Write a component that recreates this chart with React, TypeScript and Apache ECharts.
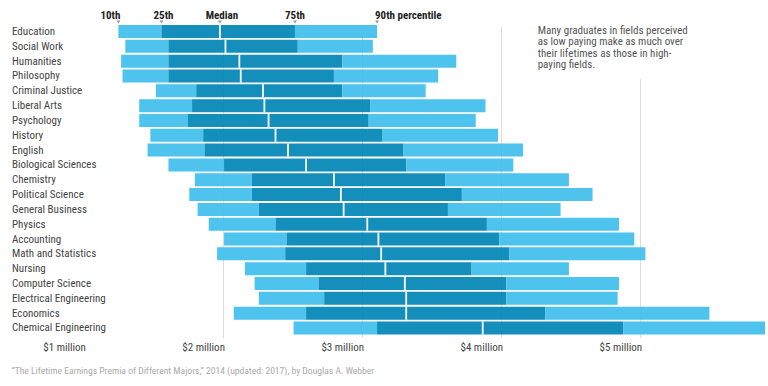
import React, { useEffect, useRef } from "react";
import * as echarts from "echarts";

const categories = [
  "Education",
  "Social Work",
  "Humanities",
  "Philosophy",
  "Criminal Justice",
  "Liberal Arts",
  "Psychology",
  "History",
  "English",
  "Biological Sciences",
  "Chemistry",
  "Political Science",
  "General Business",
  "Physics",
  "Accounting",
  "Math and Statistics",
  "Nursing",
  "Computer Science",
  "Electrical Engineering",
  "Economics",
  "Chemical Engineering",
];

// lifetime earnings, $ millions
const p10 = [1.25, 1.3, 1.27, 1.28, 1.52, 1.4, 1.4, 1.48, 1.46, 1.61, 1.8, 1.76, 1.82, 1.9, 2.01, 1.96, 2.16, 2.23, 2.26, 2.08, 2.51];
const p25 = [1.56, 1.61, 1.61, 1.61, 1.81, 1.78, 1.75, 1.86, 1.87, 2.01, 2.21, 2.21, 2.26, 2.38, 2.46, 2.45, 2.6, 2.69, 2.73, 2.6, 3.11];
const median = [1.98, 2.02, 2.12, 2.13, 2.29, 2.3, 2.33, 2.38, 2.47, 2.6, 2.8, 2.85, 2.87, 3.04, 3.12, 3.14, 3.17, 3.31, 3.32, 3.32, 3.87];
const p75 = [2.52, 2.54, 2.86, 2.8, 2.86, 3.06, 3.05, 3.15, 3.3, 3.32, 3.6, 3.72, 3.62, 3.9, 3.99, 4.06, 3.79, 4.04, 4.04, 4.32, 4.88];
const p90 = [3.11, 3.08, 3.68, 3.55, 3.46, 3.89, 3.82, 3.98, 4.16, 4.09, 4.49, 4.66, 4.43, 4.85, 4.96, 5.04, 4.49, 4.85, 4.84, 5.5, 6.1];

const xTickValues = [1, 2, 3, 4, 5];
const gridValues = [2, 3, 4, 5];
const headerLabels = ["10th", "25th", "Median", "75th", "90th percentile"];
const annotationLines = [
  "Many graduates in fields perceived",
  "as low paying make as much over",
  "their lifetimes as those in high-",
  "paying fields.",
];
const sourceText =
  "\u201cThe Lifetime Earnings Premia of Different Majors,\u201d 2014 (updated: 2017), by Douglas A. Webber";

const FONT = "'Liberation Sans Narrow', 'Roboto Condensed', 'Liberation Sans', Arial, sans-serif";
const LIGHT = "rgb(62,190,237)";
const DARK = "rgb(0,133,181)";
const BAR_OPACITY = 0.92;

const diff = (a: number[], b: number[]) => a.map((v, i) => +(v - b[i]).toFixed(3));

export default function App() {
  const ref = useRef<HTMLDivElement>(null);

  useEffect(() => {
    if (!ref.current) return;
    const chart = echarts.init(ref.current, null, { renderer: "svg" });

    const seg = (name: string, data: number[], color: string) => ({
      name,
      type: "bar",
      stack: "p",
      barWidth: 13,
      data,
      z: 2,
      itemStyle: { color, opacity: BAR_OPACITY },
      emphasis: { disabled: true },
    });

    chart.setOption({
      animation: false,
      backgroundColor: "#fff",
      textStyle: { fontFamily: FONT },
      grid: { left: 83.6, right: 0, top: 24.1, bottom: 50.6 },
      xAxis: {
        type: "value",
        min: 1,
        max: 5.9,
        interval: 1,
        axisLine: { show: false },
        axisTick: { show: false },
        splitLine: { show: false },
        axisLabel: {
          margin: 7,
          color: "#444",
          fontSize: 11,
          fontFamily: FONT,
          padding: [0, 38, 0, 0],
          formatter: (v: number) => (xTickValues.includes(v) ? `$${v} million` : ""),
        },
      },
      yAxis: {
        type: "category",
        data: categories,
        inverse: true,
        axisLine: { show: false },
        axisTick: { show: false },
        axisLabel: {
          align: "left",
          margin: 71.6,
          color: "#444",
          fontSize: 11,
          fontFamily: FONT,
        },
      },
      series: [
        {
          name: "base",
          type: "bar",
          stack: "p",
          barWidth: 13,
          data: p10,
          itemStyle: { color: "transparent" },
          emphasis: { disabled: true },
        },
        seg("10th-25th", diff(p25, p10), LIGHT),
        seg("25th-median", diff(median, p25), DARK),
        seg("median-75th", diff(p75, median), DARK),
        seg("75th-90th", diff(p90, p75), LIGHT),
        {
          name: "median",
          type: "scatter",
          symbol: "rect",
          symbolSize: [1.8, 13],
          z: 5,
          data: median.map((m, i) => [m, i]),
          itemStyle: { color: "#fff", opacity: 1 },
          emphasis: { disabled: true },
        },
      ],
    });

    const px = (v: number) => chart.convertToPixel({ xAxisIndex: 0 }, v) as number;
    const gridTops: Record<number, number> = { 2: 26, 3: 26, 4: 27, 5: 79 };
    const headerValues = [p10[0], p25[0], median[0], p75[0], p90[0]];
    const headerAlign = ["right", "center", "center", "center", "left"];
    const headerShift = [2, 2, 2, 0, -2];

    const graphics: any[] = [];
    gridValues.forEach((v) => {
      const x = Math.round(px(v)) + 0.5;
      graphics.push({
        type: "line",
        z: 0,
        silent: true,
        shape: { x1: x, y1: gridTops[v], x2: x, y2: 338 },
        style: { stroke: "#dcdcdc", lineWidth: 1 },
      });
    });
    headerValues.forEach((v, i) => {
      const x = px(v);
      graphics.push({
        type: "text",
        z: 10,
        x: x + headerShift[i],
        y: 15,
        style: {
          text: headerLabels[i],
          font: `bold 11px ${FONT}`,
          fill: "#222",
          align: headerAlign[i],
          verticalAlign: "middle",
        },
      });
      graphics.push({
        type: "polygon",
        z: 10,
        shape: { points: [[x - 2, 20.5], [x + 2, 20.5], [x, 23.5]] },
        style: { fill: "#999" },
      });
    });
    graphics.push({
      type: "text",
      z: 10,
      x: 537.7,
      y: 24.3,
      style: {
        text: annotationLines.join("\n"),
        font: `11px ${FONT}`,
        fill: "#555",
        lineHeight: 11.6,
        align: "left",
        verticalAlign: "top",
      },
    });
    graphics.push({
      type: "text",
      z: 10,
      x: 11.5,
      y: 370.5,
      style: {
        text: sourceText,
        font: `9.6px ${FONT}`,
        fill: "#aaa",
        align: "left",
        verticalAlign: "middle",
      },
    });
    chart.setOption({ graphic: graphics });

    return () => chart.dispose();
  }, []);

  return (
    <div
      ref={ref}
      style={{ position: "fixed", left: 0, top: 0, width: 768, height: 386, background: "#fff" }}
    />
  );
}
